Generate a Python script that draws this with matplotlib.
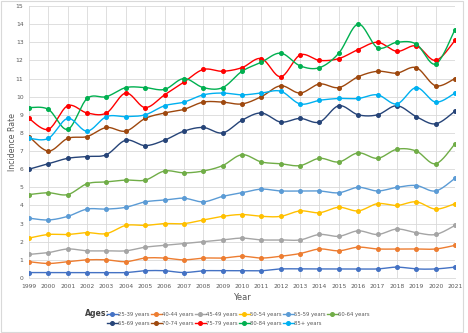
import numpy as np
import matplotlib
matplotlib.use("Agg")
import matplotlib.pyplot as plt
from matplotlib.patches import Rectangle

years = list(range(1999, 2022))

age_labels = ["25-39 years", "40-44 years", "45-49 years", "50-54 years",
              "55-59 years", "60-64 years", "65-69 years", "70-74 years",
              "75-79 years", "80-84 years", "85+ years"]

r25_39 = [0.3, 0.3, 0.3, 0.3, 0.3, 0.3, 0.4, 0.4, 0.3, 0.4, 0.4, 0.4,
          0.4, 0.5, 0.5, 0.5, 0.5, 0.5, 0.5, 0.6, 0.5, 0.5, 0.6]
r40_44 = [0.9, 0.8, 0.9, 1.0, 1.0, 0.9, 1.1, 1.1, 1.0, 1.1, 1.1, 1.2,
          1.1, 1.2, 1.35, 1.6, 1.5, 1.7, 1.6, 1.6, 1.6, 1.6, 1.8]
r45_49 = [1.3, 1.4, 1.6, 1.5, 1.5, 1.5, 1.7, 1.8, 1.9, 2.0, 2.1, 2.2,
          2.1, 2.1, 2.1, 2.4, 2.3, 2.6, 2.4, 2.7, 2.5, 2.4, 2.9]
r50_54 = [2.2, 2.4, 2.4, 2.5, 2.45, 2.9, 2.9, 3.0, 3.0, 3.2, 3.4, 3.5,
          3.4, 3.4, 3.7, 3.6, 3.9, 3.7, 4.1, 4.0, 4.2, 3.8, 4.1]
r55_59 = [3.3, 3.2, 3.4, 3.8, 3.8, 3.9, 4.2, 4.3, 4.4, 4.2, 4.5, 4.7,
          4.9, 4.8, 4.8, 4.8, 4.7, 5.0, 4.8, 5.0, 5.1, 4.8, 5.5]
r60_64 = [4.6, 4.7, 4.6, 5.2, 5.3, 5.4, 5.4, 5.9, 5.8, 5.9, 6.2, 6.8,
          6.4, 6.3, 6.2, 6.6, 6.4, 6.9, 6.6, 7.1, 7.0, 6.3, 7.4]
r65_69 = [6.0, 6.3, 6.6, 6.7, 6.8, 7.6, 7.3, 7.6, 8.1, 8.3, 8.0, 8.7,
          9.1, 8.6, 8.8, 8.6, 9.5, 9.0, 9.0, 9.5, 8.9, 8.5, 9.2]
r70_74 = [7.8, 7.0, 7.7, 7.8, 8.3, 8.1, 8.8, 9.1, 9.3, 9.7, 9.7, 9.6,
          10.0, 10.6, 10.2, 10.7, 10.5, 11.1, 11.4, 11.3, 11.6, 10.6, 11.0]
r75_79 = [8.8, 8.2, 9.5, 9.1, 9.1, 10.2, 9.4, 10.1, 10.8, 11.5, 11.4, 11.6,
          12.1, 11.1, 12.3, 12.0, 12.1, 12.6, 13.0, 12.5, 12.8, 12.0, 13.1]
r80_84 = [9.4, 9.3, 8.2, 9.9, 10.0, 10.5, 10.5, 10.4, 11.0, 10.5, 10.5, 11.4,
          11.9, 12.4, 11.7, 11.6, 12.4, 14.0, 12.7, 13.0, 12.9, 11.8, 13.7]
r85_plus = [7.7, 7.7, 8.8, 8.1, 8.9, 8.9, 9.0, 9.5, 9.7, 10.1, 10.2, 10.1,
            10.2, 10.3, 9.6, 9.8, 9.9, 9.9, 10.1, 9.6, 10.5, 9.7, 10.2]

series = [r25_39, r40_44, r45_49, r50_54, r55_59, r60_64,
          r65_69, r70_74, r75_79, r80_84, r85_plus]

couleurs = ["#4472C4", "#ED7D31", "#A5A5A5", "#FFC000", "#5B9BD5", "#70AD47",
            "#264478", "#9E480E", "#FF0000", "#00B050", "#00B0F0"]


def courbe_lisse(x, y, n=20):
    # lissage facon Excel : Bezier cubique entre les points
    x = np.asarray(x, float)
    y = np.asarray(y, float)
    px = np.concatenate([[x[0]], x, [x[-1]]])
    py = np.concatenate([[y[0]], y, [y[-1]]])
    t = np.linspace(0, 1, n)
    xs, ys = [], []
    for i in range(1, len(px) - 2):
        p0x, p0y = px[i], py[i]
        p3x, p3y = px[i + 1], py[i + 1]
        c1x = p0x + (px[i + 1] - px[i - 1]) / 6
        c1y = p0y + (py[i + 1] - py[i - 1]) / 6
        c2x = p3x - (px[i + 2] - px[i]) / 6
        c2y = p3y - (py[i + 2] - py[i]) / 6
        b0 = (1 - t) ** 3
        b1 = 3 * (1 - t) ** 2 * t
        b2 = 3 * (1 - t) * t ** 2
        b3 = t ** 3
        xs.append(b0 * p0x + b1 * c1x + b2 * c2x + b3 * p3x)
        ys.append(b0 * p0y + b1 * c1y + b2 * c2y + b3 * p3y)
    return np.concatenate(xs), np.concatenate(ys)


fig = plt.figure(figsize=(4.68, 3.33), dpi=100)
ax = fig.add_axes([29 / 468, 1 - 278 / 333, 426 / 468, 272 / 333])

handles = []
for vals, coul, lab in zip(series, couleurs, age_labels):
    xs, ys = courbe_lisse(years, vals)
    ax.plot(xs, ys, color=coul, lw=1.0, zorder=3)
    ax.plot(years, vals, ls="none", marker="o", ms=2.6, color=coul, zorder=4)
    h, = ax.plot([], [], color=coul, lw=1.0, marker="o", ms=2.6, label=lab)
    handles.append(h)

ax.set_xlim(1999, 2021)
ax.set_ylim(0, 15)
ax.set_xticks(years)
ax.set_yticks(range(0, 16))
ax.tick_params(axis="both", length=0, labelsize=4.3, colors="#595959", pad=4)
ax.grid(True, color="#D9D9D9", lw=0.6)
ax.set_axisbelow(True)
for s in ["top", "right", "left"]:
    ax.spines[s].set_visible(False)
ax.spines["bottom"].set_color("#D9D9D9")
ax.spines["bottom"].set_linewidth(0.6)

fig.text(13 / 468, 1 - 142 / 333, "Incidence Rate", rotation=90,
         ha="center", va="center", fontsize=5.6, color="#595959")
fig.text(242 / 468, 1 - 297 / 333, "Year", ha="center", va="center",
         fontsize=6, color="#595959")

# ordre pour remplir ligne par ligne (6 colonnes)
ordre = [0, 6, 1, 7, 2, 8, 3, 9, 4, 10, 5]
leg = fig.legend([handles[i] for i in ordre], [age_labels[i] for i in ordre],
                 ncol=6, loc="center left", bbox_to_anchor=(107 / 468, 1 - 319 / 333),
                 frameon=False, fontsize=3.8, handlelength=2.0, handletextpad=0.15,
                 columnspacing=0.2, labelspacing=0.8, borderpad=0, borderaxespad=0)
for t in leg.get_texts():
    t.set_color("#595959")
fig.text(85 / 468, 1 - 314 / 333, "Ages:", ha="left", va="center",
         fontsize=5.6, fontweight="bold", color="#404040")

fig.patches.append(Rectangle((1 / 468, 1 / 333), 462 / 468, 331 / 333,
                             transform=fig.transFigure, fill=False,
                             edgecolor="#D9D9D9", lw=0.8))

fig.savefig("out.png", dpi=100)
